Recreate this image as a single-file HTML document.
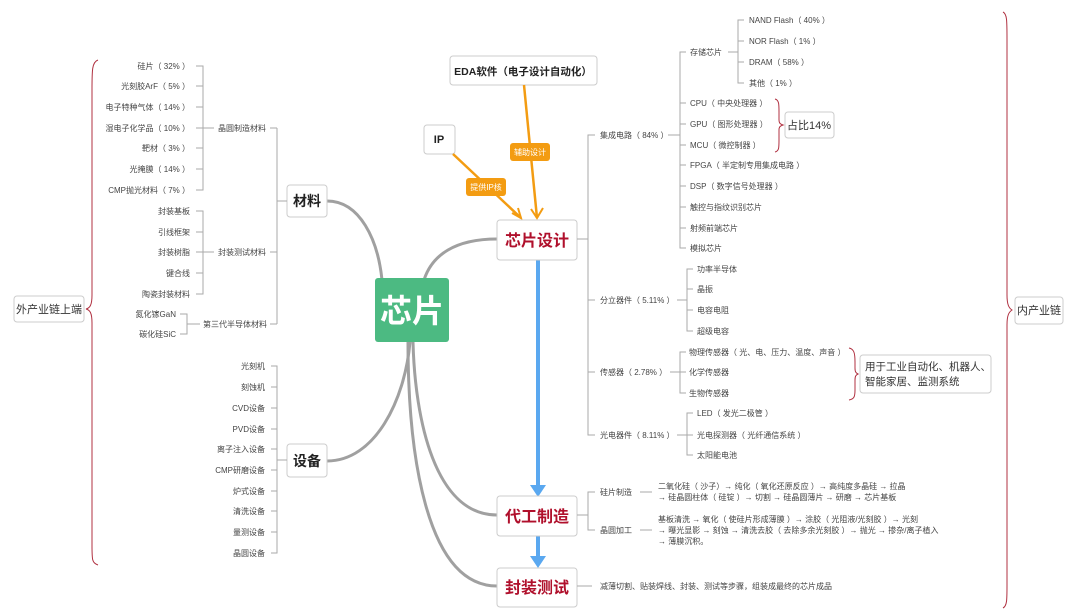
<!DOCTYPE html>
<html><head><meta charset="utf-8"><style>
html,body{margin:0;padding:0;background:#fff;}
svg{display:block;font-family:"Liberation Sans","Noto Sans CJK SC",sans-serif;}
.s{font-size:8px;fill:#444;}
.r{text-anchor:end;}
.g{stroke:#aaa;stroke-width:1;fill:none;}
.c{stroke:#a0a0a0;stroke-width:3;fill:none;}
.box{fill:#fff;stroke:#ccc;stroke-width:1;}
.b{font-size:14px;font-weight:bold;fill:#222;}
.red{font-size:16px;font-weight:bold;fill:#b0102c;}
.br{stroke:#b03040;stroke-width:1;fill:none;}
.m{font-size:11px;fill:#333;}
</style></head><body>
<svg width="1080" height="615" viewBox="0 0 1080 615">
<path class="c" d="M327,201 C360,201 378,240 382,280"/>
<path class="c" d="M497,239 C455,239 432,255 424,280"/>
<path class="c" d="M327,461 C375,461 405,400 410,342"/>
<path class="c" d="M497,515 C435,515 415,420 413,342"/>
<path class="c" d="M497,586 C425,586 408,450 408,342"/>
<rect x="375" y="278" width="74" height="64" rx="3" fill="#4cba82"/>
<text x="412" y="322" font-size="32" font-weight="bold" fill="#fff" text-anchor="middle">芯片</text>

<path class="br" d="M98,60 C92,62 92,70 92,90 L92,295 C92,305 90,308 86,309 C90,310 92,313 92,323 L92,545 C92,560 92,563 98,565"/>
<rect class="box" x="14" y="296" width="70" height="26" rx="3"/>
<text x="49" y="313" class="m" text-anchor="middle">外产业链上端</text>

<rect class="box" x="287" y="185" width="40" height="32" rx="3"/>
<text x="307" y="206" class="b" text-anchor="middle">材料</text>
<path class="g" d="M287,201 H277 M277,128 V324 M270,128 H277 M270,252 H277 M270,324 H277"/>
<text x="218" y="131" class="s">晶圆制造材料</text>
<text x="218" y="255" class="s">封装测试材料</text>
<text x="203" y="327" class="s">第三代半导体材料</text>
<path class="g" d="M196,66 H203 V190 H196 M196,86 H203 M196,107 H203 M196,128 H203 M196,148 H203 M196,169 H203 M203,128 H214"/>
<path class="g" d="M196,211 H203 V294 H196 M196,232 H203 M196,252 H203 M196,273 H203 M203,252 H214"/>
<path class="g" d="M180,314 H187 V334 H180 M187,324 H200"/>
<g class="s r">
<text x="190" y="69">硅片（ 32% ）</text>
<text x="190" y="89">光刻胶ArF（ 5% ）</text>
<text x="190" y="110">电子特种气体（ 14% ）</text>
<text x="190" y="131">湿电子化学品（ 10% ）</text>
<text x="190" y="151">靶材（ 3% ）</text>
<text x="190" y="172">光掩膜（ 14% ）</text>
<text x="190" y="193">CMP抛光材料（ 7% ）</text>
<text x="190" y="214">封装基板</text>
<text x="190" y="235">引线框架</text>
<text x="190" y="255">封装树脂</text>
<text x="190" y="276">键合线</text>
<text x="190" y="297">陶瓷封装材料</text>
<text x="176" y="317">氮化镓GaN</text>
<text x="176" y="337">碳化硅SiC</text>
</g>

<rect class="box" x="287" y="444" width="40" height="33" rx="3"/>
<text x="307" y="466" class="b" text-anchor="middle">设备</text>
<path class="g" d="M287,460 H277 M271,366 H277 V553 H271 M271,387 H277 M271,408 H277 M271,429 H277 M271,449 H277 M271,470 H277 M271,491 H277 M271,511 H277 M271,532 H277"/>
<g class="s r">
<text x="265" y="369">光刻机</text>
<text x="265" y="390">刻蚀机</text>
<text x="265" y="411">CVD设备</text>
<text x="265" y="432">PVD设备</text>
<text x="265" y="452">离子注入设备</text>
<text x="265" y="473">CMP研磨设备</text>
<text x="265" y="494">炉式设备</text>
<text x="265" y="514">清洗设备</text>
<text x="265" y="535">量测设备</text>
<text x="265" y="556">晶圆设备</text>
</g>

<rect class="box" x="450" y="56" width="147" height="29" rx="3"/>
<text x="523" y="75" font-size="10.5" font-weight="bold" fill="#222" text-anchor="middle">EDA软件（电子设计自动化）</text>
<rect class="box" x="424" y="125" width="31" height="29" rx="3"/>
<text x="439" y="143" font-size="11" font-weight="bold" fill="#222" text-anchor="middle">IP</text>
<path d="M524,85 L537,218 M453,154 L521,218" stroke="#f39c12" stroke-width="2.5" fill="none"/>
<path d="M531,209 L537,218 L543,208 M512,213 L521,218 L518,208" stroke="#f39c12" stroke-width="2" fill="none"/>
<rect x="510" y="143" width="40" height="18" rx="3" fill="#f39c12"/>
<text x="530" y="155" font-size="8" fill="#fff" text-anchor="middle">辅助设计</text>
<rect x="466" y="178" width="40" height="18" rx="3" fill="#f39c12"/>
<text x="486" y="190" font-size="8" fill="#fff" text-anchor="middle">提供IP核</text>

<path d="M538,260 V488 M538,536 V560" stroke="#5aa8f0" stroke-width="4" fill="none"/>
<path d="M530,485 L546,485 L538,497 Z M530,556 L546,556 L538,568 Z" fill="#5aa8f0"/>

<rect class="box" x="497" y="220" width="80" height="40" rx="3"/>
<text x="537" y="246" class="red" text-anchor="middle">芯片设计</text>
<rect class="box" x="497" y="496" width="80" height="40" rx="3"/>
<text x="537" y="522" class="red" text-anchor="middle">代工制造</text>
<rect class="box" x="497" y="568" width="80" height="39" rx="3"/>
<text x="537" y="593" class="red" text-anchor="middle">封装测试</text>

<path class="g" d="M577,239 H588 M595,135 H588 V435 H595 M588,300 H595 M588,372 H595"/>
<g class="s">
<text x="600" y="138">集成电路（ 84% ）</text>
<text x="600" y="303">分立器件（ 5.11% ）</text>
<text x="600" y="375">传感器（ 2.78% ）</text>
<text x="600" y="438">光电器件（ 8.11% ）</text>
</g>
<path class="g" d="M668,135 H680 M686,52 H680 V248 H686 M680,103 H686 M680,124 H686 M680,145 H686 M680,165 H686 M680,186 H686 M680,207 H686 M680,228 H686"/>
<path class="g" d="M728,52 H738 M744,20 H738 V83 H744 M738,41 H744 M738,62 H744"/>
<g class="s">
<text x="690" y="55">存储芯片</text>
<text x="690" y="106">CPU（ 中央处理器 ）</text>
<text x="690" y="127">GPU（ 图形处理器 ）</text>
<text x="690" y="148">MCU（ 微控制器 ）</text>
<text x="690" y="168">FPGA（ 半定制专用集成电路 ）</text>
<text x="690" y="189">DSP（ 数字信号处理器 ）</text>
<text x="690" y="210">触控与指纹识别芯片</text>
<text x="690" y="231">射频前端芯片</text>
<text x="690" y="251">模拟芯片</text>
<text x="749" y="23">NAND Flash（ 40% ）</text>
<text x="749" y="44">NOR Flash（ 1% ）</text>
<text x="749" y="65">DRAM（ 58% ）</text>
<text x="749" y="86">其他（ 1% ）</text>
</g>
<path class="br" d="M775,99 C779,100 779,104 779,112 L779,120 C779,123 780,124 783,125 C780,126 779,127 779,130 L779,140 C779,148 779,151 775,152"/>
<rect class="box" x="785" y="112" width="49" height="26" rx="3"/>
<text x="809" y="129" class="m" text-anchor="middle">占比14%</text>

<path class="g" d="M677,300 H687 M693,269 H687 V331 H693 M687,289 H693 M687,310 H693"/>
<g class="s">
<text x="697" y="272">功率半导体</text>
<text x="697" y="292">晶振</text>
<text x="697" y="313">电容电阻</text>
<text x="697" y="334">超级电容</text>
</g>
<path class="g" d="M670,372 H680 M686,352 H680 V393 H686 M680,372 H686"/>
<g class="s">
<text x="689" y="355">物理传感器（ 光、电、压力、温度、声音 ）</text>
<text x="689" y="375">化学传感器</text>
<text x="689" y="396">生物传感器</text>
</g>
<path class="br" d="M849,348 C854,349 855,353 855,362 L855,368 C855,372 856,373 858,374 C856,375 855,376 855,380 L855,390 C855,397 854,399 849,400"/>
<rect class="box" x="860" y="355" width="131" height="38" rx="3"/>
<text x="865" y="370" font-size="10.5" fill="#333">用于工业自动化、机器人、</text>
<text x="865" y="385" font-size="10.5" fill="#333">智能家居、监测系统</text>

<path class="g" d="M677,435 H687 M693,413 H687 V455 H693 M687,435 H693"/>
<g class="s">
<text x="697" y="416">LED（ 发光二极管 ）</text>
<text x="697" y="438">光电探测器（ 光纤通信系统 ）</text>
<text x="697" y="458">太阳能电池</text>
</g>

<path class="g" d="M577,515 H588 M595,492 H588 V530 H595 M640,492 H652 M640,530 H652"/>
<g class="s">
<text x="600" y="495">硅片制造</text>
<text x="600" y="533">晶圆加工</text>
<text x="658" y="489">二氧化硅（ 沙子）→ 纯化（ 氧化还原反应 ）→ 高纯度多晶硅 → 拉晶</text>
<text x="658" y="500">→ 硅晶圆柱体（ 硅锭 ）→ 切割 → 硅晶圆薄片 → 研磨 → 芯片基板</text>
<text x="658" y="522">基板清洗 → 氧化（ 使硅片形成薄膜 ）→ 涂胶（ 光阻液/光刻胶 ）→ 光刻</text>
<text x="658" y="533">→ 曝光显影 → 刻蚀 → 清洗去胶（ 去除多余光刻胶 ）→ 抛光 → 掺杂/离子植入</text>
<text x="658" y="544">→ 薄膜沉积。</text>
</g>
<path class="g" d="M577,586 H592"/>
<text x="600" y="589" class="s">减薄切割、贴装焊线、封装、测试等步骤，组装成最终的芯片成品</text>

<path class="br" d="M1003,12 C1007,14 1007,20 1007,40 L1007,295 C1007,305 1009,308 1012,310 C1009,312 1007,315 1007,325 L1007,585 C1007,600 1007,606 1003,608"/>
<rect class="box" x="1015" y="297" width="48" height="27" rx="3"/>
<text x="1039" y="314" class="m" text-anchor="middle">内产业链</text>
</svg>
</body></html>
